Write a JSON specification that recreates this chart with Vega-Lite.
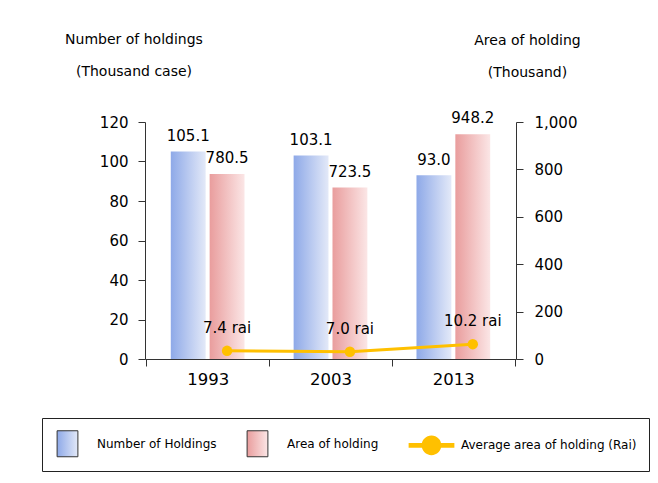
{
  "$schema": "https://vega.github.io/schema/vega-lite/v6.json",
  "width": 371,
  "height": 237,
  "autosize": {"type": "none"},
  "padding": {"left": 145, "top": 122, "right": 142, "bottom": 124},
  "background": "white",
  "config": {
    "font": "DejaVu Sans",
    "view": {"stroke": null},
    "axis": {"domainColor": "#333333", "tickColor": "#333333", "labelColor": "#000000", "titleColor": "#000000", "grid": false, "titleFontWeight": "normal", "domainWidth": 1, "tickWidth": 1}
  },
  "data": {
    "values": [
      {"year": "1993", "series": "Number of Holdings", "value": 105.1, "label": "105.1"},
      {"year": "2003", "series": "Number of Holdings", "value": 103.1, "label": "103.1"},
      {"year": "2013", "series": "Number of Holdings", "value": 93.0, "label": "93.0"},
      {"year": "1993", "series": "Area of holding", "value": 780.5, "label": "780.5"},
      {"year": "2003", "series": "Area of holding", "value": 723.5, "label": "723.5"},
      {"year": "2013", "series": "Area of holding", "value": 948.2, "label": "948.2"},
      {"year": "1993", "series": "Average area of holding (Rai)", "value": 7.4, "label": "7.4 rai"},
      {"year": "2003", "series": "Average area of holding (Rai)", "value": 7.0, "label": "7.0 rai"},
      {"year": "2013", "series": "Average area of holding (Rai)", "value": 10.2, "label": "10.2 rai"}
    ]
  },
  "encoding": {
    "x": {
      "field": "year", "type": "nominal",
      "scale": {"paddingInner": 0, "paddingOuter": 0.01},
      "axis": {"title": null, "labelAngle": 0, "labelFontSize": 16.5, "tickSize": 7, "tickBand": "extent", "labelPadding": 5}
    }
  },
  "resolve": {"scale": {"y": "independent"}, "axis": {"y": "independent"}},
  "layer": [
    {
      "transform": [{"filter": "datum.series === 'Number of Holdings'"}],
      "encoding": {
        "xOffset": {"field": "series", "type": "nominal", "scale": {"domain": ["Number of Holdings", "Area of holding"], "paddingInner": 0.1026, "paddingOuter": 0.632}},
        "y": {
          "field": "value", "type": "quantitative",
          "scale": {"domain": [0, 120]},
          "axis": {"orient": "left", "values": [0, 20, 40, 60, 80, 100, 120], "tickSize": 7, "labelPadding": 10, "labelFontSize": 15,
            "title": ["Number of holdings", "(Thousand case)"], "titleAngle": 0, "titleAlign": "center", "titleBaseline": "alphabetic",
            "titleX": -11.5, "titleY": -79, "titleLineHeight": 32, "titleFontSize": 14}
        }
      },
      "layer": [
        {
          "mark": {"type": "bar", "fill": {"gradient": "linear", "x1": 0, "y1": 0, "x2": 1, "y2": 0, "stops": [{"offset": 0, "color": "#8ea9e8"}, {"offset": 1, "color": "#e3e9f8"}]}}
        },
        {
          "mark": {"type": "text", "baseline": "alphabetic", "dy": -10, "fontSize": 15, "color": "#000000"},
          "encoding": {"text": {"field": "label"}}
        }
      ]
    },
    {
      "transform": [{"filter": "datum.series === 'Area of holding'"}],
      "encoding": {
        "xOffset": {"field": "series", "type": "nominal", "scale": {"domain": ["Number of Holdings", "Area of holding"]}},
        "y": {
          "field": "value", "type": "quantitative",
          "scale": {"domain": [0, 1000]},
          "axis": {"orient": "right", "values": [0, 200, 400, 600, 800, 1000], "format": ",d", "tickSize": 7, "labelPadding": 11, "labelFontSize": 15,
            "title": ["Area of holding", "(Thousand)"], "titleAngle": 0, "titleAlign": "center", "titleBaseline": "alphabetic",
            "titleX": 11, "titleY": -78, "titleLineHeight": 32, "titleFontSize": 14}
        }
      },
      "layer": [
        {
          "mark": {"type": "bar", "fill": {"gradient": "linear", "x1": 0, "y1": 0, "x2": 1, "y2": 0, "stops": [{"offset": 0, "color": "#e99d9d"}, {"offset": 1, "color": "#fbe6e6"}]}}
        },
        {
          "mark": {"type": "text", "baseline": "alphabetic", "dy": -11, "fontSize": 15, "color": "#000000"},
          "encoding": {"text": {"field": "label"}}
        }
      ]
    },
    {
      "transform": [{"filter": "datum.series === 'Average area of holding (Rai)'"}],
      "encoding": {
        "xOffset": {"datum": "Area of holding", "type": "nominal"},
        "y": {"field": "value", "type": "quantitative", "scale": {"domain": [4, 103], "zero": false}, "axis": null}
      },
      "layer": [
        {"mark": {"type": "line", "color": "#FFC000", "strokeWidth": 3}},
        {"mark": {"type": "circle", "size": 110, "opacity": 1, "color": "#FFC000"}},
        {
          "mark": {"type": "point", "opacity": 0},
          "encoding": {
            "fill": {
              "field": "series", "type": "nominal",
              "scale": {
                "domain": ["Number of Holdings", "Area of holding", "Average area of holding (Rai)"],
                "range": [
                  {"expr": "{gradient: 'linear', x1: 0, y1: 0, x2: 1, y2: 0, stops: [{offset: 0, color: '#8ea9e8'}, {offset: 1, color: '#e3e9f8'}]}"},
                  {"expr": "{gradient: 'linear', x1: 0, y1: 0, x2: 1, y2: 0, stops: [{offset: 0, color: '#e99d9d'}, {offset: 1, color: '#fbe6e6'}]}"},
                  "#FFC000"
                ]
              },
              "legend": {
                "orient": "none", "legendX": -103, "legendY": 296, "direction": "horizontal", "title": null,
                "strokeColor": "#222222", "padding": 12, "columnPadding": 27, "labelOffset": 16, "labelLimit": 400,
                "labelFontSize": 12, "labelColor": "#000000", "symbolSize": 676, "symbolOpacity": 1, "symbolStrokeWidth": 1
              }
            },
            "shape": {
              "field": "series", "type": "nominal",
              "scale": {
                "domain": ["Number of Holdings", "Area of holding", "Average area of holding (Rai)"],
                "range": ["M-0.8,-1H0.8V1H-0.8Z", "M-0.8,-1H0.8V1H-0.8Z", "M-1.76,-0.18H1.76V0.18H-1.76Z M0.76,0A0.76,0.76 0 1 1 -0.76,0A0.76,0.76 0 1 1 0.76,0Z"]
              },
              "legend": {
                "orient": "none", "legendX": -103, "legendY": 296, "direction": "horizontal", "title": null,
                "strokeColor": "#222222", "padding": 12, "columnPadding": 27, "labelOffset": 16, "labelLimit": 400,
                "labelFontSize": 12, "labelColor": "#000000", "symbolSize": 676, "symbolOpacity": 1, "symbolStrokeWidth": 1
              }
            },
            "stroke": {
              "field": "series", "type": "nominal",
              "scale": {
                "domain": ["Number of Holdings", "Area of holding", "Average area of holding (Rai)"],
                "range": ["#333333", "#333333", "transparent"]
              },
              "legend": {
                "orient": "none", "legendX": -103, "legendY": 296, "direction": "horizontal", "title": null,
                "strokeColor": "#222222", "padding": 12, "columnPadding": 27, "labelOffset": 16, "labelLimit": 400,
                "labelFontSize": 12, "labelColor": "#000000", "symbolSize": 676, "symbolOpacity": 1, "symbolStrokeWidth": 1
              }
            }
          }
        },
        {
          "mark": {"type": "text", "baseline": "alphabetic", "dy": -18, "fontSize": 15, "color": "#000000"},
          "encoding": {"text": {"field": "label"}}
        }
      ]
    }
  ]
}
